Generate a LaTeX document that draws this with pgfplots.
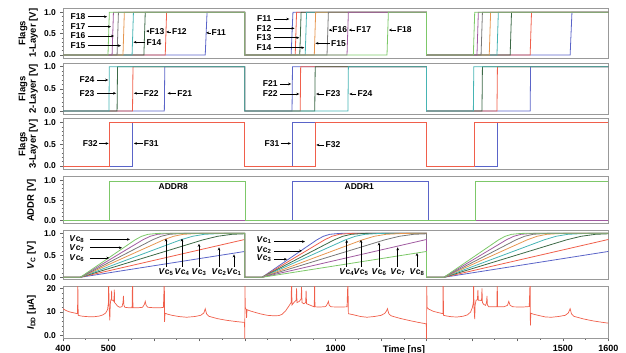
\documentclass[border=0pt]{standalone}
\usepackage{fontspec}
\setmainfont{Liberation Sans}
\usepackage{pgfplots}
\pgfplotsset{compat=1.18}
\usetikzlibrary{arrows.meta}
\definecolor{cB}{RGB}{90,100,200}
\definecolor{cR}{RGB}{240,95,75}
\definecolor{cDG}{RGB}{60,105,70}
\definecolor{cT}{RGB}{70,180,180}
\definecolor{cO}{RGB}{230,150,80}
\definecolor{cG}{RGB}{120,120,120}
\definecolor{cP}{RGB}{160,90,160}
\definecolor{cL}{RGB}{125,200,105}
\tikzset{arr/.style={-{Stealth[length=3pt,width=2.6pt]}, line width=0.6pt, black},
 ann/.style={font=\bfseries\fontsize{8.5}{9}\selectfont, inner sep=0.5pt}}
\pgfplotsset{
 panel/.style={
   scale only axis, width=545.3pt, xmin=400, xmax=1600,
   axis line style={draw=black!40, line width=1pt},
   xtick=\empty, ytick={0,0.5,1}, yticklabels={0.0,0.5,1.0},
   minor y tick num=4,
   ytick pos=left, xtick pos=bottom,
   tick align=outside,
   major tick length=3pt, minor tick length=1.5pt,
   tick style={black!60, line width=0.5pt},
   /pgf/number format/assume math mode=true,
   ticklabel style={font=\bfseries\fontsize{8.5}{9}\selectfont},
   yticklabel style={xshift=-0.5pt},
   label style={font=\bfseries\fontsize{9.5}{10.5}\selectfont},
   ylabel style={at={(axis description cs:-0.064,0.5)}, anchor=center, align=center},
   every axis plot/.append style={line width=0.8pt, no markers},
 },
}
\begin{document}
\begin{tikzpicture}
\useasboundingbox (0,0) rectangle (626pt,353pt);
% ---------------- Panel 1
\begin{axis}[panel, at={(63pt,294.7pt)}, anchor=south west, height=50pt,
  ymin=-0.077, ymax=1.094, ylabel={Flags\\1-Layer [V]}]
\addplot[cB] coordinates {(400,0)(713,0)(717,1)(800,1)(800,0)(902,0)(906,1)(1200,1)(1200,0)(1516,0)(1520,1)(1600,1)};
\addplot[cR] coordinates {(400,0)(625,0)(628,1)(800,1)(800,0)(911,0)(914,1)(1200,1)(1200,0)(1428,0)(1431,1)(1600,1)};
\addplot[cDG] coordinates {(400,0)(578,0)(581,1)(800,1)(800,0)(921,0)(924,1)(1200,1)(1200,0)(1384,0)(1387,1)(1600,1)};
\addplot[cT] coordinates {(400,0)(552,0)(555,1)(800,1)(800,0)(933,0)(936,1)(1200,1)(1200,0)(1355,0)(1358,1)(1600,1)};
\addplot[cO] coordinates {(400,0)(532,0)(535,1)(800,1)(800,0)(953,0)(956,1)(1200,1)(1200,0)(1338,0)(1341,1)(1600,1)};
\addplot[cG] coordinates {(400,0)(519,0)(522,1)(800,1)(800,0)(981,0)(984,1)(1200,1)(1200,0)(1320,0)(1323,1)(1600,1)};
\addplot[cP] coordinates {(400,0)(508,0)(511,1)(800,1)(800,0)(1025,0)(1028,1)(1200,1)(1200,0)(1311,0)(1314,1)(1600,1)};
\addplot[cL] coordinates {(400,0)(499,0)(502,1)(800,1)(800,0)(1113,0)(1116,1)(1200,1)(1200,0)(1303,0)(1306,1)(1600,1)};
% labels period 1
\node[ann, anchor=east] at (450.6,0.897) {F18}; \draw[arr] (455,0.897) -- (497,0.897);
\node[ann, anchor=east] at (450.6,0.663) {F17}; \draw[arr] (455,0.663) -- (505.6,0.663);
\node[ann, anchor=east] at (450.6,0.445) {F16}; \draw[arr] (455,0.445) -- (512.2,0.445);
\node[ann, anchor=east] at (450.6,0.218) {F15}; \draw[arr] (455,0.218) -- (527.6,0.218);
\draw[arr] (580.5,0.30) -- (555,0.30); \node[ann, anchor=west] at (582.7,0.30) {F14};
\draw[arr] (589,0.56) -- (583,0.56); \node[ann, anchor=west] at (589,0.56) {F13};
\draw[arr] (638,0.54) -- (627,0.54); \node[ann, anchor=west] at (638.5,0.54) {F12};
\draw[arr] (725,0.52) -- (715,0.52); \node[ann, anchor=west] at (725.5,0.52) {F11};
% labels period 2
\node[ann, anchor=east] at (860,0.843) {F11}; \draw[arr] (864,0.843) -- (898,0.843);
\node[ann, anchor=east] at (860,0.625) {F12}; \draw[arr] (864,0.625) -- (909.5,0.625);
\node[ann, anchor=east] at (860,0.405) {F13}; \draw[arr] (864,0.405) -- (920,0.405);
\node[ann, anchor=east] at (860,0.171) {F14}; \draw[arr] (864,0.171) -- (931,0.171);
\draw[arr] (991,0.585) -- (984.5,0.585); \node[ann, anchor=west] at (991.5,0.585) {F16};
\draw[arr] (1043.5,0.585) -- (1029,0.585); \node[ann, anchor=west] at (1044,0.585) {F17};
\draw[arr] (1133,0.585) -- (1117,0.585); \node[ann, anchor=west] at (1133.5,0.585) {F18};
\draw[arr] (988,0.274) -- (955.5,0.274); \node[ann, anchor=west] at (988.5,0.274) {F15};
\end{axis}
% ---------------- Panel 2
\begin{axis}[panel, at={(63pt,238.7pt)}, anchor=south west, height=51pt,
  ymin=-0.074, ymax=1.077, ylabel={Flags\\2-Layer [V]}]
\addplot[cB] coordinates {(400,0)(623,0)(624,1)(800,1)(800,0)(904,0)(905,1)(1200,1)(1200,0)(1428,0)(1429,1)(1600,1)};
\addplot[cR] coordinates {(400,0)(553,0)(554,1)(800,1)(800,0)(922,0)(923,1)(1200,1)(1200,0)(1355,0)(1356,1)(1600,1)};
\addplot[cDG] coordinates {(400,0)(519,0)(520,1)(800,1)(800,0)(954,0)(955,1)(1200,1)(1200,0)(1322,0)(1323,1)(1600,1)};
\addplot[cT] coordinates {(400,0)(501,0)(502,1)(800,1)(800,0)(1027,0)(1028,1)(1200,1)(1200,0)(1303,0)(1304,1)(1600,1)};
\node[ann, anchor=east] at (470.4,0.70) {F24}; \draw[arr] (474.8,0.70) -- (499.5,0.70);
\node[ann, anchor=east] at (470.4,0.40) {F23}; \draw[arr] (474.8,0.40) -- (517,0.40);
\draw[arr] (575,0.40) -- (556,0.40); \node[ann, anchor=west] at (576.7,0.40) {F22};
\draw[arr] (648.5,0.40) -- (630,0.40); \node[ann, anchor=west] at (650.2,0.40) {F21};
\node[ann, anchor=east] at (873.8,0.61) {F21}; \draw[arr] (877,0.61) -- (902,0.61);
\node[ann, anchor=east] at (873.8,0.384) {F22}; \draw[arr] (877,0.384) -- (920,0.384);
\draw[arr] (975,0.384) -- (957,0.384); \node[ann, anchor=west] at (976.6,0.384) {F23};
\draw[arr] (1045.5,0.384) -- (1030,0.384); \node[ann, anchor=west] at (1047,0.384) {F24};
\end{axis}
% ---------------- Panel 3
\begin{axis}[panel, at={(63pt,183pt)}, anchor=south west, height=51.7pt,
  ymin=-0.092, ymax=1.10, ylabel={Flags\\3-Layer [V]}]
\addplot[cB] coordinates {(400,0)(553,0)(553,1)(800,1)(800,0)(904,0)(904,1)(1200,1)(1200,0)(1356,0)(1356,1)(1600,1)};
\addplot[cR] coordinates {(400,0)(503,0)(503,1)(800,1)(800,0)(955,0)(955,1)(1200,1)(1200,0)(1305,0)(1305,1)(1600,1)};
\node[ann, anchor=east] at (477.7,0.52) {F32}; \draw[arr] (479,0.52) -- (500.5,0.52);
\draw[arr] (575,0.52) -- (556,0.52); \node[ann, anchor=west] at (576.7,0.52) {F31};
\node[ann, anchor=east] at (877.5,0.52) {F31}; \draw[arr] (879,0.52) -- (901.5,0.52);
\draw[arr] (975,0.485) -- (957.5,0.485); \node[ann, anchor=west] at (976.6,0.485) {F32};
\end{axis}
% ---------------- Panel 4
\begin{axis}[panel, at={(63pt,129pt)}, anchor=south west, height=47pt,
  ymin=-0.083, ymax=1.09, ylabel={ADDR [V]},
  ylabel style={at={(axis description cs:-0.058,0.5)}}]
\addplot[cB] coordinates {(400,0)(904,0)(904,0.97)(1203,0.97)(1203,0)(1600,0)};
\addplot[cP] coordinates {(400,0)(1600,0)};
\addplot[cL] coordinates {(400,0)(503,0)(503,0.97)(802,0.97)(802,0)(1307,0)(1307,0.97)(1600,0.97)};
\node[ann] at (642.7,0.86) {ADDR8};
\node[ann] at (1052,0.84) {ADDR1};
\end{axis}
% ---------------- Panel 5
\begin{axis}[panel, at={(63pt,73pt)}, anchor=south west, height=49pt,
  ymin=-0.061, ymax=1.05, ylabel={\textit{V}\textsubscript{C} [V]},
  ylabel style={at={(axis description cs:-0.058,0.5)}}]
\addplot[cB] coordinates {(400,0)(438,0)(800,0.586)(800,0)(838,0)(958.7,0.85)(972.9,0.93)(987.1,0.975)(1008.4,0.995)(1029.7,1)(1200,1)(1200,0)(1238,0)(1600,0.586)};
\addplot[cR] coordinates {(400,0)(438,0)(796.7,0.85)(800,0.856)(800,0)(838,0)(975.7,0.85)(991.9,0.93)(1008.1,0.975)(1032.4,0.995)(1056.7,1)(1200,1)(1200,0)(1238,0)(1596.7,0.85)(1600,0.856)};
\addplot[cDG] coordinates {(400,0)(438,0)(708.3,0.85)(740.1,0.93)(771.9,0.975)(800,0.987)(800,0)(838,0)(997,0.85)(1015.7,0.93)(1034.4,0.975)(1062.4,0.995)(1090.5,1)(1200,1)(1200,0)(1238,0)(1508.3,0.85)(1540.1,0.93)(1571.9,0.975)(1600,0.987)};
\addplot[cT] coordinates {(400,0)(438,0)(659,0.85)(685,0.93)(711,0.975)(750,0.995)(789,1)(800,1)(800,0)(838,0)(1021.6,0.85)(1043.2,0.93)(1064.8,0.975)(1097.2,0.995)(1129.6,1)(1200,1)(1200,0)(1238,0)(1459,0.85)(1485,0.93)(1511,0.975)(1550,0.995)(1589,1)(1600,1)};
\addplot[cO] coordinates {(400,0)(438,0)(621.6,0.85)(643.2,0.93)(664.8,0.975)(697.2,0.995)(729.6,1)(800,1)(800,0)(838,0)(1059,0.85)(1085,0.93)(1111,0.975)(1150,0.995)(1189,1)(1200,1)(1200,0)(1238,0)(1421.6,0.85)(1443.2,0.93)(1464.8,0.975)(1497.2,0.995)(1529.6,1)(1600,1)};
\addplot[cG] coordinates {(400,0)(438,0)(597,0.85)(615.7,0.93)(634.4,0.975)(662.4,0.995)(690.5,1)(800,1)(800,0)(838,0)(1108.3,0.85)(1140.1,0.93)(1171.9,0.975)(1200,0.987)(1200,0)(1238,0)(1397,0.85)(1415.7,0.93)(1434.4,0.975)(1462.4,0.995)(1490.5,1)(1600,1)};
\addplot[cP] coordinates {(400,0)(438,0)(575.7,0.85)(591.9,0.93)(608.1,0.975)(632.4,0.995)(656.7,1)(800,1)(800,0)(838,0)(1196.7,0.85)(1200,0.856)(1200,0)(1238,0)(1375.7,0.85)(1391.9,0.93)(1408.1,0.975)(1432.4,0.995)(1456.7,1)(1600,1)};
\addplot[cL] coordinates {(400,0)(438,0)(558.7,0.85)(572.9,0.93)(587.1,0.975)(608.4,0.995)(629.7,1)(800,1)(800,0)(838,0)(1200,0.586)(1200,0)(1238,0)(1358.7,0.85)(1372.9,0.93)(1387.1,0.975)(1408.4,0.995)(1429.7,1)(1600,1)};
% period 1 labels
\node[ann, anchor=east] at (448.4,0.86) {\textit{V}c\textsubscript{8}}; \draw[arr] (459.4,0.86) -- (547.4,0.86);
\node[ann, anchor=east] at (448.4,0.67) {\textit{V}c\textsubscript{7}}; \draw[arr] (459.4,0.67) -- (529.8,0.67);
\node[ann, anchor=east] at (448.4,0.44) {\textit{V}c\textsubscript{6}}; \draw[arr] (459.4,0.44) -- (501.9,0.44);
\draw[arr] (626.7,0.24) -- (626.7,0.88); \node[ann] at (626.7,0.12) {\textit{V}c\textsubscript{5}};
\draw[arr] (661.9,0.24) -- (661.9,0.88); \node[ann] at (661.9,0.12) {\textit{V}c\textsubscript{4}};
\draw[arr] (699.3,0.24) -- (699.3,0.76); \node[ann] at (699.3,0.12) {\textit{V}c\textsubscript{3}};
\draw[arr] (743.3,0.24) -- (743.3,0.68); \node[ann] at (743.3,0.12) {\textit{V}c\textsubscript{2}};
\draw[arr] (776.3,0.24) -- (776.3,0.52); \node[ann] at (776.3,0.12) {\textit{V}c\textsubscript{1}};
% period 2 labels
\node[ann, anchor=east] at (860,0.84) {\textit{V}c\textsubscript{1}}; \draw[arr] (864,0.81) -- (932.5,0.81);
\node[ann, anchor=east] at (860,0.62) {\textit{V}c\textsubscript{2}}; \draw[arr] (864,0.60) -- (926,0.60);
\node[ann, anchor=east] at (860,0.43) {\textit{V}c\textsubscript{3}}; \draw[arr] (864,0.41) -- (893,0.41);
\draw[arr] (1024.3,0.24) -- (1024.3,0.85); \node[ann] at (1024.3,0.12) {\textit{V}c\textsubscript{4}};
\draw[arr] (1055.8,0.24) -- (1055.8,0.85); \node[ann] at (1055.8,0.12) {\textit{V}c\textsubscript{5}};
\draw[arr] (1095.4,0.24) -- (1095.4,0.79); \node[ann] at (1095.4,0.12) {\textit{V}c\textsubscript{6}};
\draw[arr] (1136.5,0.24) -- (1136.5,0.68); \node[ann] at (1136.5,0.12) {\textit{V}c\textsubscript{7}};
\draw[arr] (1179,0.24) -- (1179,0.55); \node[ann] at (1179,0.12) {\textit{V}c\textsubscript{8}};
\end{axis}
% ---------------- Panel 6
\begin{axis}[panel, at={(63pt,14.7pt)}, anchor=south west, height=51.6pt,
  ymin=-1.1, ymax=20.7, ytick={0,10,20}, yticklabels={0.0,10,20},
  ylabel={\textit{I}\textsubscript{DD} [µA]},
  ylabel style={at={(axis description cs:-0.058,0.5)}},
  xtick={400,500,...,1600}, xticklabels={400,500,,,,,1000,,,,,1500,1600},
  minor x tick num=1,
  xticklabel style={font=\bfseries\fontsize{9}{10}\selectfont},
  xlabel={Time [ns]},
  xlabel style={at={(rel axis cs:0.6253,0)}, anchor=north, yshift=-3.6pt}]
\addplot[cR, line width=0.7pt] coordinates {
(400,11.4)(405,10.8)(412,10.2)(420,9.8)(430,9.4)(432,9.3)(432.5,24)(433.5,8.6)(440,8.3)(450,8.1)(460,8.0)(470,8.05)(480,8.3)(488,8.8)(494,9.6)(498,11)(500,14)(500.5,24)(501.5,12)(503,6.5)(504,13)(505,15)(506.5,15.5)(507,19)(507.5,15)(510,15)(512,14.5)(513,19.5)(513.5,14)(516,13.5)(520,12.5)(525,12)(530,12.3)(532,14)(533,16.8)(534,13)(536,12)(545,11.8)(552,11.8)(553,24)(554,11.8)(565,11.8)(575,12)(579,13.2)(581,14.5)(583,12.8)(587,12)(600,11.8)(615,11.8)(621,12)(623,24)(623.5,5.8)(624.5,9.5)(630,9.1)(640,8.6)(655,8.1)(672,7.8)(690,8.1)(703,8.6)(710,9.6)(713,11.4)(716,9.2)(721,8.2)(740,7.2)(760,6.5)(780,6.0)(799.5,5.6)
(800,-2)(800.5,24)(801,12)(803,11)(804,7.5)(805,11)(810,10.6)(820,10)(835,9.2)(850,8.6)(865,8.4)(875,8.5)(882,9)(890,10.5)(897,12.5)(902,14)(903,24)(904,13)(908,14)(913,15)(914,20)(915,14)(920,14.5)(924,15.5)(925,20.5)(926,14)(930,13.5)(934,14)(935,19)(936,13.5)(940,13.2)(945,12.8)(950,12.4)(953,12.2)(953.5,24)(954.5,12.2)(965,12.1)(978,12.3)(982,13.5)(984,14.5)(986,12.8)(990,12.2)(1010,12.1)(1025,12.2)(1027,24)(1028,9.3)(1040,8.8)(1055,8.1)(1069,7.8)(1085,8.1)(1100,8.6)(1108,9.4)(1112,10.5)(1114,11.4)(1117,9.3)(1122,8.4)(1140,7.4)(1160,6.5)(1180,5.7)(1199.5,5.0)
(1200,-2)(1200.5,24)(1201,12)(1205,11.2)(1215,10.3)(1225,9.8)(1234,9.4)(1236,9.3)(1236.5,24)(1237.5,8.6)(1245,8.3)(1255,8.0)(1267,7.9)(1280,8.2)(1290,8.8)(1297,10)(1301,12)(1303,14)(1303.5,24)(1304.5,12)(1306,7)(1307,13)(1309,15)(1312,15.2)(1313,19.3)(1314,15)(1318,15)(1321,14.8)(1322,20)(1323,14)(1326,13.2)(1330,12.8)(1332,14)(1333,16.8)(1334,13)(1337,12.2)(1350,12.2)(1355,12.2)(1355.5,24)(1356.5,12.2)(1370,12.2)(1378,12.8)(1381,14.5)(1384,12.8)(1390,12.2)(1410,12.1)(1426,12.3)(1428,24)(1428.5,4.3)(1429.5,9.5)(1435,9.1)(1450,8.4)(1462,7.9)(1475,7.8)(1490,8.1)(1505,8.6)(1512,9.6)(1516,11.4)(1519,9.2)(1524,8.2)(1545,7.1)(1565,6.3)(1585,5.7)(1600,5.3)};
\end{axis}
\end{tikzpicture}
\end{document}
